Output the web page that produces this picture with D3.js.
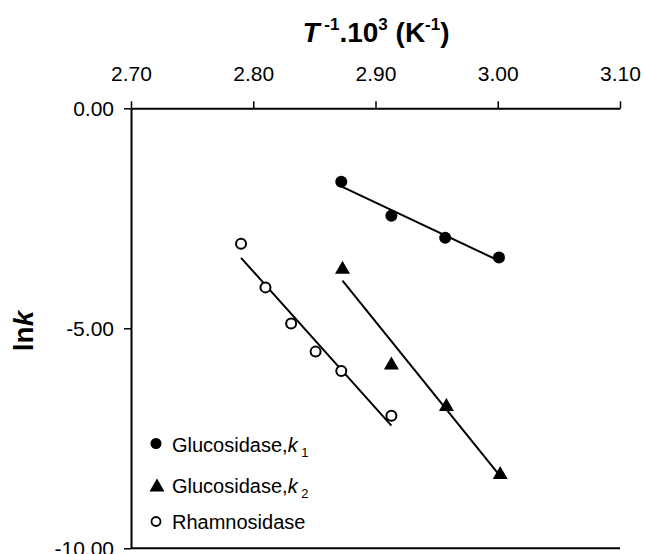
<!DOCTYPE html>
<html>
<head>
<meta charset="utf-8">
<script src="https://cdn.jsdelivr.net/npm/d3@7"></script>
<style>
  body { margin: 0; background: #fff; }
  text { font-family: Arial, 'Liberation Sans', sans-serif; fill: #000; }
</style>
</head>
<body>
<svg id="chart" width="645" height="554"></svg>
<script>
// 1/T * 10^3 and ln k for each enzyme
var invT_k1 = [2.872, 2.913, 2.957, 3.001];
var lnk_k1 = [-1.67, -2.44, -2.94, -3.39];

var invT_k2 = [2.873, 2.913, 2.958, 3.002];
var lnk_k2 = [-3.61, -5.79, -6.73, -8.28];

var invT_rh = [2.790, 2.810, 2.831, 2.851, 2.872, 2.913];
var lnk_rh = [-3.08, -4.07, -4.89, -5.53, -5.97, -6.99];

var xTicks = [2.70, 2.80, 2.90, 3.00, 3.10];
var yTicks = [0, -5, -10];

var svg = d3.select('#chart');

var x = d3.scaleLinear()
  .domain([2.70, 3.10])
  .range([131, 620]);

var y = d3.scaleLinear()
  .domain([0, -10])
  .range([108.3, 548.3]);

// plain hyphen for negatives, like the original
var fmt = function(d) { return d3.format('.2f')(d).replace('\u2212', '-'); };

// axes
var axisX = d3.axisTop(x)
  .tickValues(xTicks)
  .tickFormat(fmt)
  .tickSizeInner(7)
  .tickSizeOuter(0)
  .tickPadding(20);

var gx = svg.append('g')
  .attr('transform', 'translate(0,' + y(0) + ')')
  .call(axisX);

var axisY = d3.axisLeft(y)
  .tickValues(yTicks)
  .tickFormat(fmt)
  .tickSizeInner(7)
  .tickSizeOuter(0)
  .tickPadding(10);

var gy = svg.append('g')
  .attr('transform', 'translate(' + x(2.70) + ',0)')
  .call(axisY);

// bottom frame line
svg.append('line')
  .attr('x1', x(2.70))
  .attr('x2', x(3.10))
  .attr('y1', y(-10))
  .attr('y2', y(-10))
  .attr('stroke', '#000')
  .attr('stroke-width', 2);

[gx, gy].forEach(function(g) {
  g.select('.domain').attr('stroke', '#000').attr('stroke-width', 2);
  g.selectAll('.tick line').attr('stroke', '#000').attr('stroke-width', 1.5);
  g.selectAll('.tick text')
    .style('font-size', '21px')
    .style('font-family', "Arial, 'Liberation Sans', sans-serif")
    .attr('fill', '#000');
});

// regression line from first to last x
function fitLine(xs, ys) {
  var mx = d3.mean(xs), my = d3.mean(ys);
  var sxy = d3.sum(xs, function(v, i) { return (v - mx) * (ys[i] - my); });
  var sxx = d3.sum(xs, function(v) { return (v - mx) * (v - mx); });
  var b = sxy / sxx;
  var a = my - b * mx;
  var x0 = d3.min(xs), x1 = d3.max(xs);
  return [[x0, a + b * x0], [x1, a + b * x1]];
}

var line = d3.line()
  .x(function(d) { return x(d[0]); })
  .y(function(d) { return y(d[1]); });

[[invT_k1, lnk_k1], [invT_k2, lnk_k2], [invT_rh, lnk_rh]].forEach(function(s) {
  svg.append('path')
    .attr('d', line(fitLine(s[0], s[1])))
    .attr('fill', 'none')
    .attr('stroke', '#000')
    .attr('stroke-width', 2);
});

var triPath = 'M0,-6.5L7.5,6.5L-7.5,6.5Z';

// markers
svg.append('g').selectAll('circle')
  .data(invT_k1)
  .enter()
  .append('circle')
    .attr('cx', function(d) { return x(d); })
    .attr('cy', function(d, i) { return y(lnk_k1[i]); })
    .attr('r', 6)
    .attr('fill', '#000');

svg.append('g').selectAll('path')
  .data(invT_k2)
  .enter()
  .append('path')
    .attr('d', triPath)
    .attr('transform', function(d, i) { return 'translate(' + x(d) + ',' + y(lnk_k2[i]) + ')'; })
    .attr('fill', '#000');

svg.append('g').selectAll('circle')
  .data(invT_rh)
  .enter()
  .append('circle')
    .attr('cx', function(d) { return x(d); })
    .attr('cy', function(d, i) { return y(lnk_rh[i]); })
    .attr('r', 5)
    .attr('fill', '#fff')
    .attr('stroke', '#000')
    .attr('stroke-width', 2);

// title
var title = svg.append('text')
  .attr('x', 376)
  .attr('y', 42)
  .attr('text-anchor', 'middle')
  .style('font-size', '28px')
  .style('font-weight', 'bold');
title.append('tspan').style('font-style', 'italic').text('T');
title.append('tspan').style('font-size', '17px').attr('dy', -12).text(' -1');
title.append('tspan').attr('dy', 12).text('.10');
title.append('tspan').style('font-size', '17px').attr('dy', -12).text('3');
title.append('tspan').attr('dy', 12).text(' (K');
title.append('tspan').style('font-size', '17px').attr('dy', -12).text('-1');
title.append('tspan').attr('dy', 12).text(')');

// y label
var ylab = svg.append('text')
  .attr('transform', 'translate(33,331) rotate(-90)')
  .attr('text-anchor', 'middle')
  .style('font-size', '28px')
  .style('font-weight', 'bold');
ylab.append('tspan').text('ln');
ylab.append('tspan').style('font-style', 'italic').text('k');

// legend
var legend = svg.append('g');

legend.append('circle')
  .attr('cx', 156).attr('cy', 443.5).attr('r', 5.5)
  .attr('fill', '#000');
var t1 = legend.append('text').attr('x', 172).attr('y', 452).style('font-size', '20px');
t1.append('tspan').text('Glucosidase,');
t1.append('tspan').style('font-style', 'italic').text('k');
t1.append('tspan').style('font-size', '13px').attr('dy', 5).text(' 1');

legend.append('path')
  .attr('d', triPath)
  .attr('transform', 'translate(157,485)')
  .attr('fill', '#000');
var t2 = legend.append('text').attr('x', 172).attr('y', 492.5).style('font-size', '20px');
t2.append('tspan').text('Glucosidase,');
t2.append('tspan').style('font-style', 'italic').text('k');
t2.append('tspan').style('font-size', '13px').attr('dy', 5).text(' 2');

legend.append('circle')
  .attr('cx', 156).attr('cy', 521.5).attr('r', 4.5)
  .attr('fill', '#fff')
  .attr('stroke', '#000')
  .attr('stroke-width', 1.8);
legend.append('text').attr('x', 172).attr('y', 529).style('font-size', '20px')
  .text('Rhamnosidase');
</script>
</body>
</html>
